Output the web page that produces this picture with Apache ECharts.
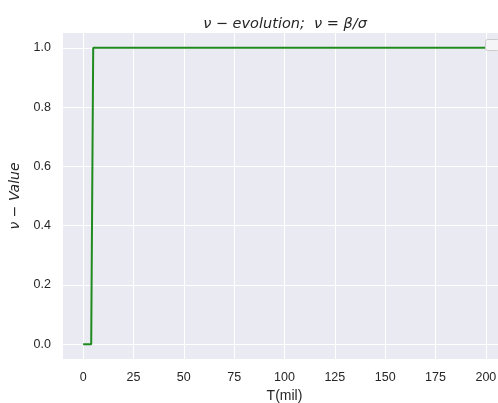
<!DOCTYPE html>
<html>
<head>
<meta charset="utf-8">
<script src="https://cdn.jsdelivr.net/npm/echarts@6/dist/echarts.min.js"></script>
<style>html,body{margin:0;padding:0;background:#fff}#c{width:498px;height:403px}</style>
</head>
<body>
<div id="c"></div>
<script>
// Data
const tValues = [0, 4, 5, 200];
const nuValues = [0, 0, 1, 1];
const xTicks = [0, 25, 50, 75, 100, 125, 150, 175, 200];
const yTicks = [0, 0.2, 0.4, 0.6, 0.8, 1.0];
const titleText = 'ν − evolution;  ν = β/σ';
const xName = 'T(mil)';
const yName = 'ν − Value';

const chart = echarts.init(document.getElementById('c'), null, {renderer: 'canvas'});
const txt = '#262626';
chart.setOption({
  animation: false,
  backgroundColor: '#ffffff',
  title: {
    text: titleText,
    left: 280,
    top: 12,
    textAlign: 'center',
    textStyle: {fontFamily: 'DejaVu Sans', fontStyle: 'italic', fontWeight: 'normal', fontSize: 14.5, color: txt}
  },
  grid: {
    left: 63, top: 33, right: -8, bottom: 44,
    containLabel: false, outerBoundsMode: 'none',
    show: true, backgroundColor: '#EAEAF2', borderWidth: 0
  },
  xAxis: {
    type: 'value', min: -10, max: 210,
    name: xName, nameLocation: 'middle', nameGap: 30,
    nameTextStyle: {fontFamily: 'Liberation Sans', fontSize: 14, color: txt},
    axisLine: {show: false},
    axisTick: {show: false, customValues: xTicks},
    axisLabel: {customValues: xTicks, color: txt, fontFamily: 'Liberation Sans', fontSize: 12.5, margin: 12},
    splitLine: {show: true, lineStyle: {color: '#ffffff', width: 1}}
  },
  yAxis: {
    type: 'value', min: -0.05, max: 1.05,
    name: yName, nameLocation: 'middle', nameGap: 38, nameRotate: 90,
    nameTextStyle: {fontFamily: 'DejaVu Sans', fontStyle: 'italic', fontSize: 14, color: txt},
    axisLine: {show: false},
    axisTick: {show: false, customValues: yTicks},
    axisLabel: {customValues: yTicks, color: txt, fontFamily: 'Liberation Sans', fontSize: 12.5, margin: 12,
      formatter: v => v.toFixed(1)},
    splitLine: {show: true, lineStyle: {color: '#ffffff', width: 1}}
  },
  series: [{
    type: 'line',
    data: tValues.map((t, i) => [t, nuValues[i]]),
    showSymbol: false,
    lineStyle: {color: '#1f8b1f', width: 2},
    itemStyle: {color: '#1f8b1f'}
  }],
  graphic: [{
    type: 'rect', left: 485, top: 39, z: 100,
    shape: {width: 14, height: 11, r: 2},
    style: {fill: 'rgba(245,245,248,1)', stroke: '#cccccc', lineWidth: 1}
  }]
});
</script>
</body>
</html>
